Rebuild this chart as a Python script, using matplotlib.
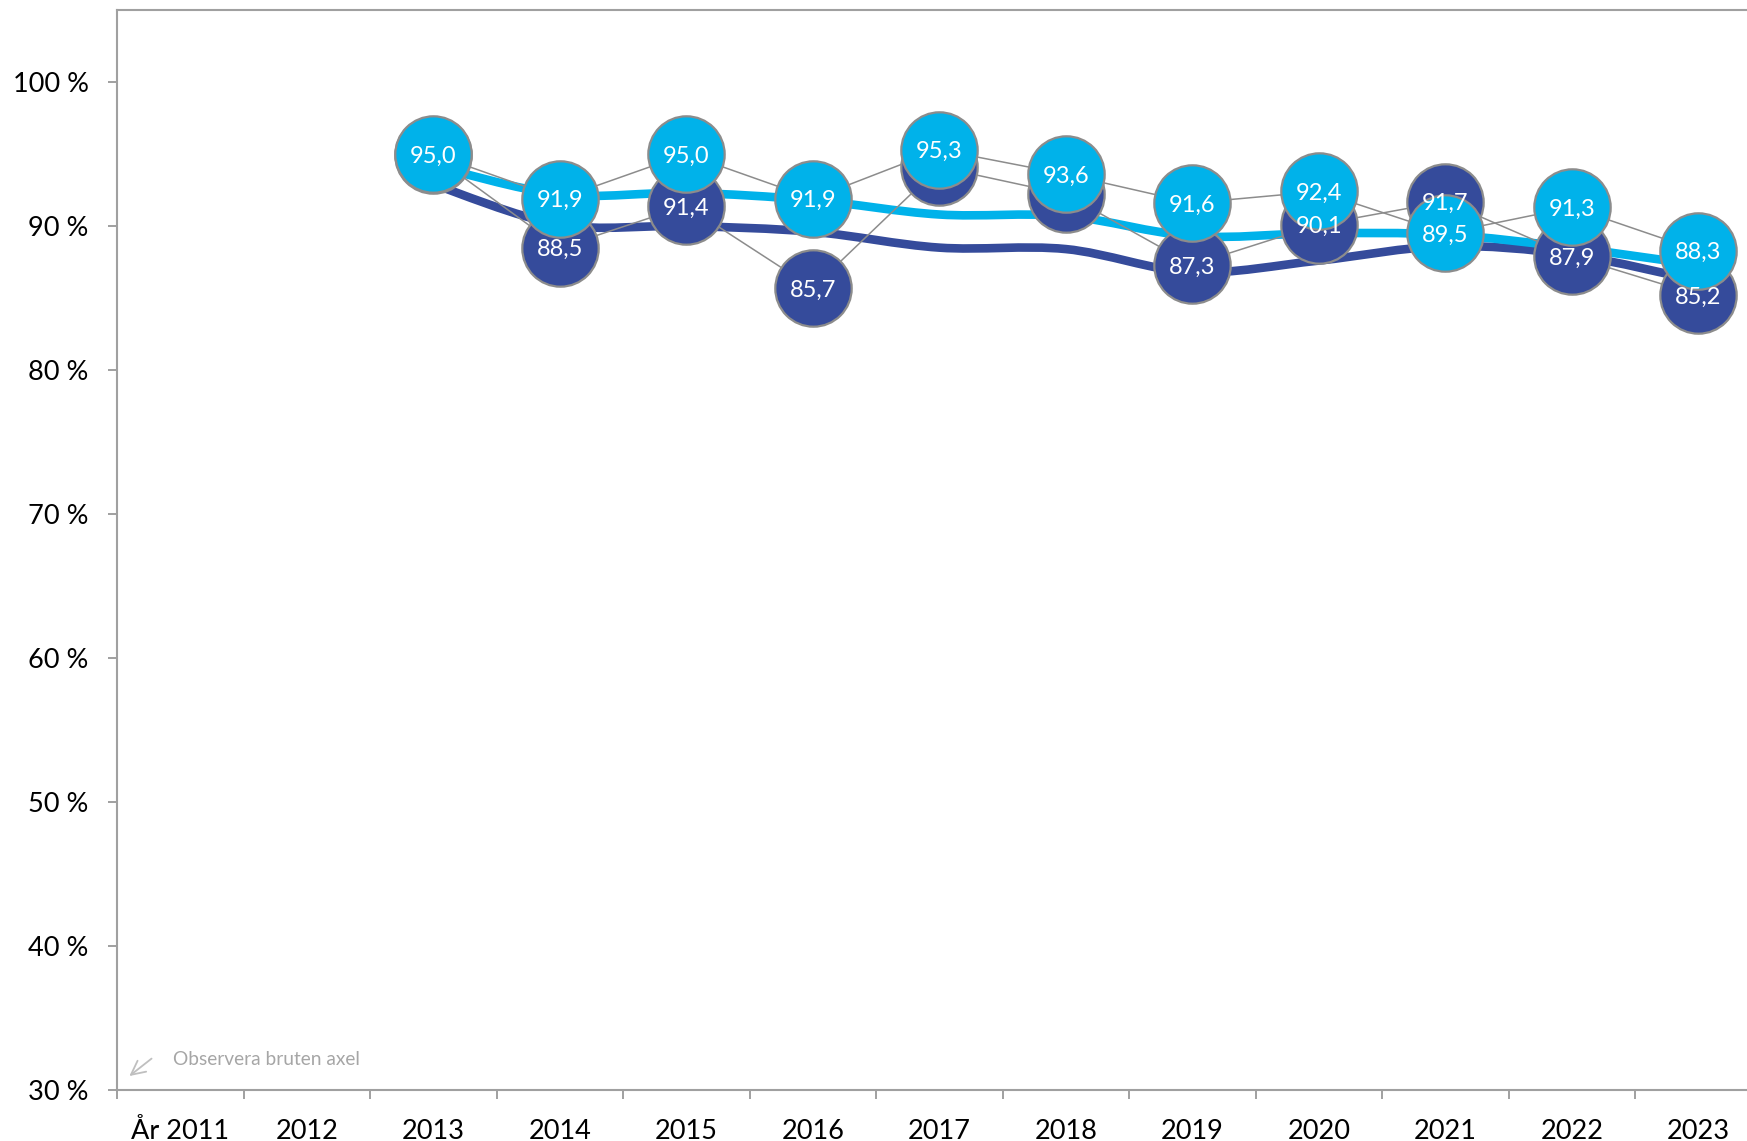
import numpy as np
import matplotlib
matplotlib.use("Agg")
import matplotlib.pyplot as plt
from matplotlib.path import Path
from matplotlib.patches import PathPatch

years = ["År 2011", "2012", "2013", "2014", "2015", "2016", "2017",
         "2018", "2019", "2020", "2021", "2022", "2023"]

# yearly results (index 2 = 2013 ... 12 = 2023), values in percent
dark_vals = [None, None, 94.9, 88.5, 91.4, 85.7, 94.1, 92.2, 87.3, 90.1, 91.7, 87.9, 85.2]
light_vals = [None, None, 95.0, 91.9, 95.0, 91.9, 95.3, 93.6, 91.6, 92.4, 89.5, 91.3, 88.3]
# labels that are shown for the dark series (hidden ones sit behind light circles)
dark_show = [False, False, False, True, True, True, False, False, True, True, True, True, True]

# smoothed trend lines
dark_trend = [None, None, 92.9, 90.1, 90.0, 89.6, 88.5, 88.4, 86.8, 87.6, 88.6, 88.0, 86.2]
light_trend = [None, None, 94.2, 92.2, 92.3, 91.8, 90.8, 90.7, 89.3, 89.5, 89.4, 88.5, 87.3]

y_ticks = [30, 40, 50, 60, 70, 80, 90, 100]

DARK = "#354B9B"
LIGHT = "#00B2EA"
EDGE = "#8C8C8C"
AXIS = "#A0A0A0"

plt.rcParams["font.family"] = ["Lato", "DejaVu Sans"]


def smooth_path(xs, ys):
    """Catmull-Rom style smooth curve through the points, like Excel's smoothed line."""
    pts = np.column_stack([xs, ys]).astype(float)
    n = len(pts)
    verts = [pts[0]]
    codes = [Path.MOVETO]
    for i in range(n - 1):
        p0 = pts[i - 1] if i > 0 else pts[i]
        p1 = pts[i]
        p2 = pts[i + 1]
        p3 = pts[i + 2] if i + 2 < n else pts[i + 1]
        c1 = p1 + (p2 - p0) / 6.0
        c2 = p2 - (p3 - p1) / 6.0
        verts += [c1, c2, p2]
        codes += [Path.CURVE4] * 3
    return Path(verts, codes)


def valid(vals):
    idx = [i for i, v in enumerate(vals) if v is not None]
    return np.array(idx), np.array([vals[i] for i in idx])


fig = plt.figure(figsize=(17.47, 11.41), dpi=100)
ax = fig.add_axes([0.067, 0.0447, 0.9413, 0.9465])

# thick smooth trend lines
for vals, col in [(dark_trend, DARK), (light_trend, LIGHT)]:
    x, y = valid(vals)
    ax.add_patch(PathPatch(smooth_path(x, y), fill=False, edgecolor=col,
                           lw=6.2, capstyle="butt", zorder=2))

# thin connecting lines
for vals in [dark_vals, light_vals]:
    x, y = valid(vals)
    ax.plot(x, y, color=EDGE, lw=1.1, zorder=3)

# circle markers
xd, yd = valid(dark_vals)
xl, yl = valid(light_vals)
ax.plot(xd, yd, ls="none", marker="o", ms=55, mfc=DARK, mec=EDGE, mew=1.6, zorder=4)
ax.plot(xl, yl, ls="none", marker="o", ms=55, mfc=LIGHT, mec=EDGE, mew=1.6, zorder=5)

# value labels
for i, v in enumerate(dark_vals):
    if v is not None and dark_show[i]:
        ax.text(i, v, f"{v:.1f}".replace(".", ","), color="white", fontsize=17,
                ha="center", va="center_baseline", zorder=7)
for i, v in enumerate(light_vals):
    if v is not None:
        ax.text(i, v, f"{v:.1f}".replace(".", ","), color="white", fontsize=17,
                ha="center", va="center_baseline", zorder=8)

ax.set_xlim(-0.5, len(years) - 0.5)
ax.set_ylim(30, 105)

ax.set_yticks(y_ticks)
ax.set_yticklabels([f"{t} %" for t in y_ticks])
ax.set_xticks(np.arange(len(years) + 1) - 0.5)
ax.set_xticklabels([])
ax.set_xticks(np.arange(len(years)), minor=True)
ax.set_xticklabels(years, minor=True)

ax.tick_params(axis="y", direction="out", length=6.5, width=1.4, color=AXIS,
               labelsize=19.5, pad=14, labelcolor="black")
ax.tick_params(axis="x", which="major", direction="out", length=6.5, width=1.4, color=AXIS)
ax.tick_params(axis="x", which="minor", length=0, labelsize=19.5, pad=21, labelcolor="black")

for side in ["left", "bottom", "top"]:
    ax.spines[side].set_color(AXIS)
    ax.spines[side].set_linewidth(1.5)
ax.spines["right"].set_visible(False)

ax.annotate("", xy=(-0.42, 30.85), xytext=(-0.21, 32.3),
            arrowprops=dict(arrowstyle="->", color="#BFBFBF", lw=1.3,
                            mutation_scale=25))
ax.text(-0.06, 31.75, "Observera bruten axel", color="#A6A6A6", fontsize=13.8,
        ha="left", va="baseline")

fig.savefig("out.png", dpi=100)
